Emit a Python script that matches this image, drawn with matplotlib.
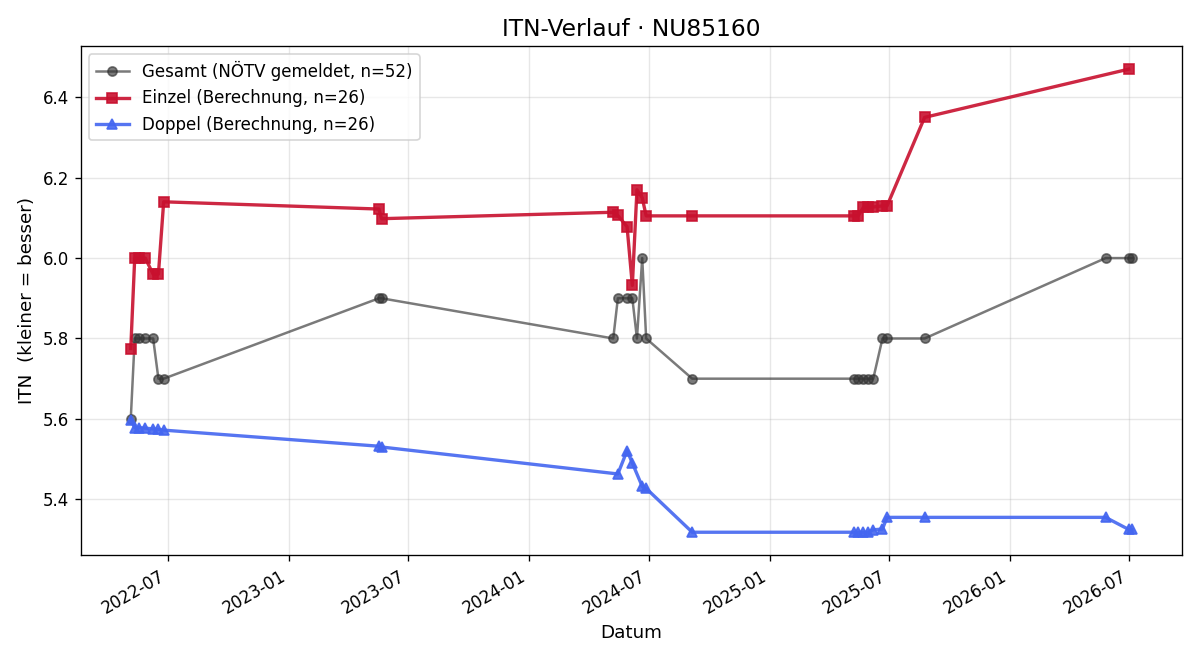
import pandas as pd
import matplotlib.pyplot as plt
import matplotlib.dates as mdates

# Gesamt (NÖTV gemeldet)
gesamt_dates = ["2022-05-06", "2022-05-12", "2022-05-19", "2022-05-28", "2022-06-09", "2022-06-17", "2022-06-25",
                "2023-05-18", "2023-05-22",
                "2024-05-08", "2024-05-15", "2024-05-29", "2024-06-06", "2024-06-13", "2024-06-21", "2024-06-27",
                "2024-09-05",
                "2025-05-09", "2025-05-15", "2025-05-23", "2025-05-30", "2025-06-07", "2025-06-21", "2025-06-28",
                "2025-08-24", "2026-05-26", "2026-06-30", "2026-07-05"]
gesamt_itn = [5.6, 5.8, 5.8, 5.8, 5.8, 5.7, 5.7,
              5.9, 5.9,
              5.8, 5.9, 5.9, 5.9, 5.8, 6.0, 5.8,
              5.7,
              5.7, 5.7, 5.7, 5.7, 5.7, 5.8, 5.8,
              5.8, 6.0, 6.0, 6.0]

# Einzel (Berechnung)
einzel_dates = ["2022-05-06", "2022-05-12", "2022-05-19", "2022-05-28", "2022-06-09", "2022-06-17", "2022-06-25",
                "2023-05-18", "2023-05-22",
                "2024-05-08", "2024-05-15", "2024-05-29", "2024-06-06", "2024-06-13", "2024-06-21", "2024-06-27",
                "2024-09-05",
                "2025-05-09", "2025-05-15", "2025-05-23", "2025-05-30", "2025-06-07", "2025-06-21", "2025-06-28",
                "2025-08-24", "2026-06-30"]
einzel_itn = [5.775, 6.0, 6.0, 6.0, 5.96, 5.96, 6.14,
              6.122, 6.098,
              6.114, 6.106, 6.078, 5.932, 6.17, 6.15, 6.105,
              6.105,
              6.105, 6.105, 6.126, 6.126, 6.127, 6.13, 6.13,
              6.35, 6.47]

# Doppel (Berechnung)
doppel_dates = ["2022-05-06", "2022-05-12", "2022-05-19", "2022-05-28", "2022-06-09", "2022-06-17", "2022-06-25",
                "2023-05-18", "2023-05-22",
                "2024-05-15", "2024-05-29", "2024-06-06", "2024-06-21", "2024-06-27",
                "2024-09-05",
                "2025-05-09", "2025-05-15", "2025-05-23", "2025-05-30", "2025-06-07", "2025-06-21", "2025-06-28",
                "2025-08-24", "2026-05-26", "2026-06-30", "2026-07-05"]
doppel_itn = [5.597, 5.578, 5.578, 5.577, 5.575, 5.574, 5.572,
              5.532, 5.530,
              5.463, 5.521, 5.490, 5.432, 5.427,
              5.318,
              5.318, 5.318, 5.318, 5.318, 5.324, 5.326, 5.355,
              5.355, 5.355, 5.325, 5.325]

fig, ax = plt.subplots(figsize=(10, 5.5), dpi=120)

ax.plot(pd.to_datetime(gesamt_dates), gesamt_itn, marker="o", markersize=5.5, linewidth=1.5,
        color="#333333", alpha=0.65, label="Gesamt (NÖTV gemeldet, n=52)")
ax.plot(pd.to_datetime(einzel_dates), einzel_itn, marker="s", markersize=6.5, linewidth=2,
        color="#c8102e", alpha=0.9, label="Einzel (Berechnung, n=26)")
ax.plot(pd.to_datetime(doppel_dates), doppel_itn, marker="^", markersize=6.5, linewidth=2,
        color="#4466f0", alpha=0.9, label="Doppel (Berechnung, n=26)")

ax.set_title("ITN-Verlauf · NU85160", fontsize=14)
ax.set_xlabel("Datum", fontsize=11)
ax.set_ylabel("ITN  (kleiner = besser)", fontsize=11)
ax.grid(True, alpha=0.3)
ax.legend(loc="upper left", fontsize=10)

ax.xaxis.set_major_locator(mdates.MonthLocator(bymonth=[1, 7]))
ax.xaxis.set_major_formatter(mdates.DateFormatter("%Y-%m"))
fig.autofmt_xdate()

plt.tight_layout()
plt.savefig("out.png")
